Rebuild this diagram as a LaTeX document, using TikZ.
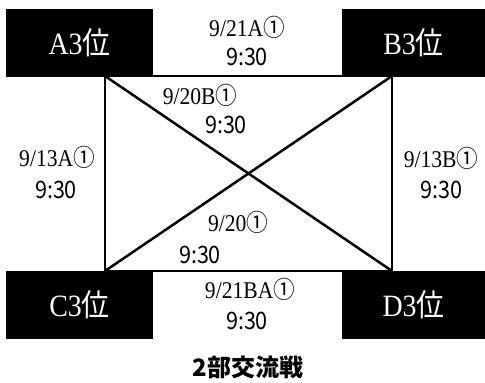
\documentclass[tikz,border=0pt]{standalone}
\usepackage{fontspec}
\setmainfont{Liberation Serif}
\newfontfamily\gothic{Noto Sans CJK JP}
\newcommand{\maru}{{\gothic ①}}
\newcommand{\tall}[1]{\scalebox{0.9}[1]{#1}}

\begin{document}
\begin{tikzpicture}[x=1pt,y=-1pt,
        team/.style={fill=black,text=white,inner sep=0pt,minimum height=68pt,font=\fontsize{31}{34}\selectfont},
        date/.style={inner sep=0pt,font=\fontsize{24}{26}\selectfont},
        time/.style={inner sep=0pt,font=\gothic\fontsize{24}{26}\selectfont},
        game/.style={line width=2.5pt}
    ]
        \useasboundingbox (0,0) rectangle (485,383);
        % Corners
        \coordinate (a) at (105,76);
        \coordinate (b) at (392,76);
        \coordinate (c) at (105,271);
        \coordinate (d) at (392,271);

        % Games
        \draw[game] (a) -- (b) -- (d) -- (c) -- cycle;
        \draw[game] (a) -- (d);
        \draw[game] (b) -- (c);

        % Teams
        \node[team,minimum width=147pt] (A) at (79.5,43) {\tall{A3{\gothic 位}}};
        \node[team,minimum width=143pt] (B) at (413.5,43) {\tall{B3{\gothic 位}}};
        \node[team,minimum width=147pt] (C) at (79.5,305) {\tall{C3{\gothic 位}}};
        \node[team,minimum width=143pt] (D) at (413.5,305) {\tall{D3{\gothic 位}}};

        % Dates
        \node[date] (ab) at (247,27) {\tall{9/21A\maru}};
        \node[time] (abt) at (247,57) {\tall{9:30}};
        \node[date] (ad) at (200,95) {\tall{9/20B\maru}};
        \node[time] (adt) at (226,125) {\tall{9:30}};
        \node[date] (ac) at (57,157) {\tall{9/13A\maru}};
        \node[time] (act) at (56,190) {\tall{9:30}};
        \node[date] (bd) at (441,158) {\tall{9/13B\maru}};
        \node[time] (bdt) at (441,190) {\tall{9:30}};
        \node[date] (bc) at (238,222) {\tall{9/20\maru}};
        \node[time] (bct) at (200,255) {\tall{9:30}};
        \node[date] (cd) at (250,289) {\tall{9/21BA\maru}};
        \node[time] (cdt) at (247,321) {\tall{9:30}};

        % Title
        \node[font=\gothic\bfseries\fontsize{24}{28}\selectfont] (title) at (248,367) {2部交流戦};
    \end{tikzpicture}
\end{document}
